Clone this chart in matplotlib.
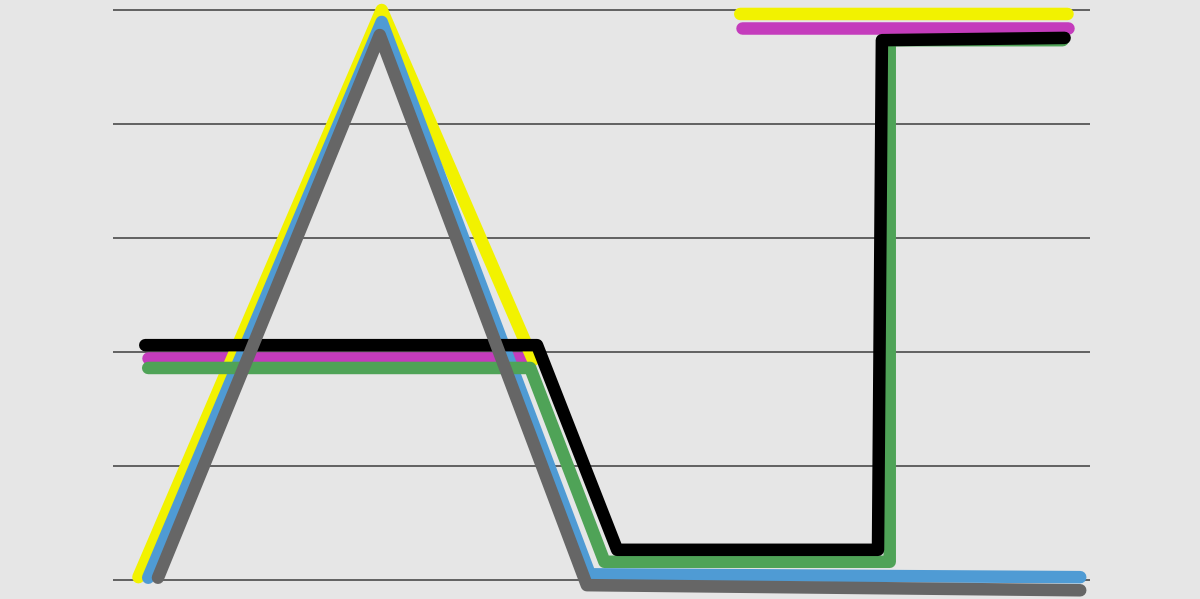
import numpy as np
import matplotlib.pyplot as plt

# values, x and y on a 0-100 scale
# None = gap in the series
yellow_x = [2.6, 27.5, 43.0, None, 64.2, 97.7]
yellow_y = [0.5, 100.0, 38.6, None, 99.3, 99.3]

magenta_x = [3.6, 42.5, None, 64.4, 97.7]
magenta_y = [38.9, 38.9, None, 96.8, 96.8]

blue_x = [3.6, 27.5, 48.8, 99.0]
blue_y = [0.4, 97.9, 1.0, 0.5]

green_x = [3.6, 42.7, 50.3, 79.5, 79.5, 97.2]
green_y = [37.2, 37.2, 3.2, 3.2, 94.7, 94.7]

black_x = [3.3, 43.4, 51.6, 78.3, 78.7, 97.4]
black_y = [41.2, 41.2, 5.3, 5.3, 94.7, 95.1]

gray_x = [4.6, 27.3, 48.5, 99.0]
gray_y = [0.4, 95.6, -0.9, -1.8]

grid_y = [0, 20, 40, 60, 80, 100]


def to_arr(v):
    return np.array([np.nan if a is None else a for a in v], dtype=float)


fig = plt.figure(figsize=(12, 5.99), dpi=100)
fig.patch.set_facecolor('#e6e6e6')
ax = fig.add_axes([0, 0, 1, 1])
ax.set_facecolor('#e6e6e6')

ax.hlines(grid_y, 0, 100, color='#4a4a4a', lw=1.2, zorder=1)

series = [
    (magenta_x, magenta_y, '#c43cbc'),
    (yellow_x, yellow_y, '#f2f200'),
    (blue_x, blue_y, '#4f9bd4'),
    (green_x, green_y, '#4fa357'),
    (black_x, black_y, '#000000'),
    (gray_x, gray_y, '#666666'),
]
for i, (xs, ys, c) in enumerate(series):
    ax.plot(to_arr(xs), to_arr(ys), color=c, lw=9,
            solid_capstyle='round', solid_joinstyle='round', zorder=2 + i)

ax.set_xlim(-11.57, 111.26)
ax.set_ylim(-3.33, 101.75)
ax.axis('off')

fig.savefig('out.png', dpi=100, facecolor=fig.get_facecolor())
